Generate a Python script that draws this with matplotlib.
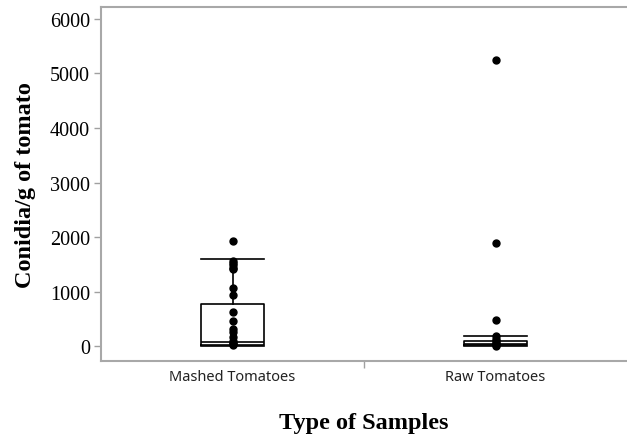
import matplotlib
matplotlib.use("Agg")
import matplotlib.pyplot as plt

categories = ["Mashed Tomatoes", "Raw Tomatoes"]
q1 = [25, 15]
median = [75, 45]
q3 = [770, 100]
whisker_low = [0, 0]
whisker_high = [1596, 185]
mashed_points = [1932, 1565, 1520, 1480, 1440, 1413, 1064, 936, 618, 464, 312, 250, 165, 100, 60, 37, 10]
raw_points = [5250, 1885, 477, 180, 130, 90, 60, 35, 15, 5]
yticks = [0, 1000, 2000, 3000, 4000, 5000, 6000]

fig = plt.figure(figsize=(6.27, 4.35), dpi=100)
ax = fig.add_axes([101/627, 1 - 362/435, 526/627, 354/435])

stats = []
for i, c in enumerate(categories):
    stats.append(dict(label=c, q1=q1[i], med=median[i], q3=q3[i],
                      whislo=whisker_low[i], whishi=whisker_high[i], fliers=[]))
ax.bxp(stats, positions=[0, 1], widths=0.24, showfliers=False,
       boxprops=dict(color="black", linewidth=1.2),
       medianprops=dict(color="black", linewidth=1.2),
       whiskerprops=dict(color="black", linewidth=1.2),
       capprops=dict(color="black", linewidth=1.2),
       capwidths=0.24)

for i, pts in enumerate([mashed_points, raw_points]):
    ax.plot([i] * len(pts), pts, "o", color="black", markersize=5, zorder=3)

ax.set_xlim(-0.5, 1.5)
ax.set_ylim(-275, 6220)
ax.set_yticks(yticks)
ax.set_yticklabels([str(t) for t in yticks], fontfamily="Liberation Serif", fontsize=14.5)
ax.set_xticks([0, 1])
ax.set_xticklabels(categories, fontfamily="Noto Sans", fontsize=10.5, color="#222222")
ax.tick_params(axis="x", length=0, pad=6)
ax.set_xticks([0.5], minor=True)
ax.tick_params(axis="x", which="minor", length=5, color="#a0a0a0", width=1)
ax.tick_params(axis="y", length=5, color="#a0a0a0", width=1, pad=3)

for s in ["left", "bottom", "top"]:
    ax.spines[s].set_color("#a8a8a8")
    ax.spines[s].set_linewidth(1.5)
ax.spines["right"].set_visible(False)

ax.set_ylabel("Conidia/g of tomato", fontfamily="Liberation Serif", fontweight="bold", fontsize=17.5, labelpad=10)
ax.set_xlabel("Type of Samples", fontfamily="Liberation Serif", fontweight="bold", fontsize=17.5, labelpad=20)

fig.savefig("out.png", dpi=100)
